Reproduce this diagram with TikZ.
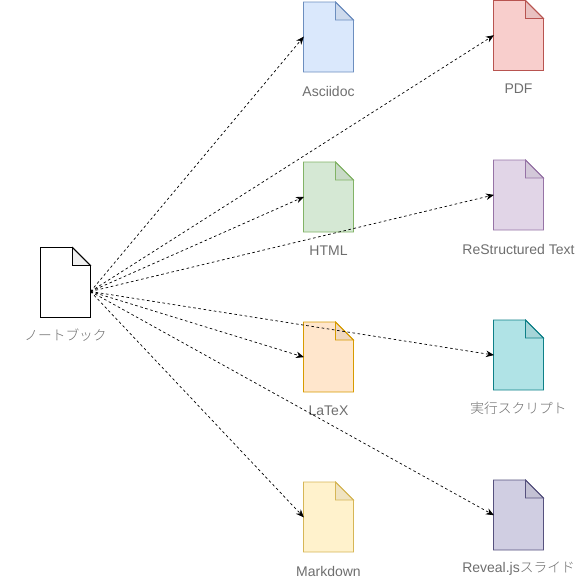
\documentclass[tikz,border=0pt]{standalone}
\usepackage{fontspec}
\setmainfont{Liberation Sans}
\newfontfamily\cjk{Noto Sans CJK JP Light}[Scale=0.98]
\usetikzlibrary{arrows.meta,calc}
\definecolor{lbl}{HTML}{6E6E6E}
\definecolor{adF}{HTML}{DAE8FC}\definecolor{adS}{HTML}{6C8EBF}
\definecolor{pdfF}{HTML}{F8CECC}\definecolor{pdfS}{HTML}{B85450}
\definecolor{htmlF}{HTML}{D5E8D4}\definecolor{htmlS}{HTML}{82B366}
\definecolor{rstF}{HTML}{E1D5E7}\definecolor{rstS}{HTML}{9673A6}
\definecolor{texF}{HTML}{FFE6CC}\definecolor{texS}{HTML}{D79B00}
\definecolor{scrF}{HTML}{B0E3E6}\definecolor{scrS}{HTML}{0E8088}
\definecolor{mdF}{HTML}{FFF2CC}\definecolor{mdS}{HTML}{D6B656}
\definecolor{rvF}{HTML}{D0CEE2}\definecolor{rvS}{HTML}{56517E}
\tikzset{
  docbox/.style={minimum width=50pt,minimum height=70pt,inner sep=0pt,outer sep=0pt},
  docline/.style={line width=0.8pt,line join=miter},
  doclabel/.style={text=lbl,font=\fontsize{14pt}{16pt}\selectfont,inner sep=0pt},
  link/.style={line width=0.7pt,dash pattern=on 2.6pt off 2.6pt,-{Stealth[length=8pt,width=6.5pt]},shorten >=-0.5pt},
}
\newcommand{\docshape}[6]{%
  \node[docbox] (#1) at (#2,#3) {};
  \path let \p1=(#1.north east) in coordinate (#1a) at (\x1-18pt,\y1) coordinate (#1b) at (\x1,\y1-18pt) coordinate (#1c) at (\x1-18pt,\y1-18pt);
  \draw[docline,draw=#5,fill=#4] (#1.north west) -- (#1a) -- (#1b) -- (#1.south east) -- (#1.south west) -- cycle;
  \draw[docline,draw=#5,fill=black,fill opacity=0.06] (#1a) -- (#1c) -- (#1b) -- cycle;
  \node[doclabel] (#1l) at (#2,#3+#6) }
\begin{document}
\begin{tikzpicture}[x=1pt,y=-1pt]
\useasboundingbox (0,0) rectangle (584,581);
\docshape{nb}{65.5}{282.5}{white}{black}{52.5}{\cjk ノートブック};
\docshape{ad}{328.5}{37}{adF}{adS}{54}{Asciidoc};
\docshape{pdf}{518.5}{35.5}{pdfF}{pdfS}{53.5}{PDF};
\docshape{html}{328.5}{197}{htmlF}{htmlS}{54}{HTML};
\docshape{rst}{518.5}{195}{rstF}{rstS}{54}{ReStructured Text};
\docshape{tex}{328.5}{357}{texF}{texS}{54}{LaTeX};
\docshape{scr}{518.5}{355}{scrF}{scrS}{53}{\cjk 実行スクリプト};
\docshape{md}{328.5}{517}{mdF}{mdS}{54}{Markdown};
\docshape{rv}{518.5}{515}{rvF}{rvS}{54}{Reveal.js{\cjk スライド}};
\coordinate (nbout) at ($(nbb)!0.5!(nb.south east)$);
\foreach \t in {ad,pdf,html,rst,tex,scr,md,rv}
  \draw[link] (nbout) -- (\t.west);
\end{tikzpicture}
\end{document}
